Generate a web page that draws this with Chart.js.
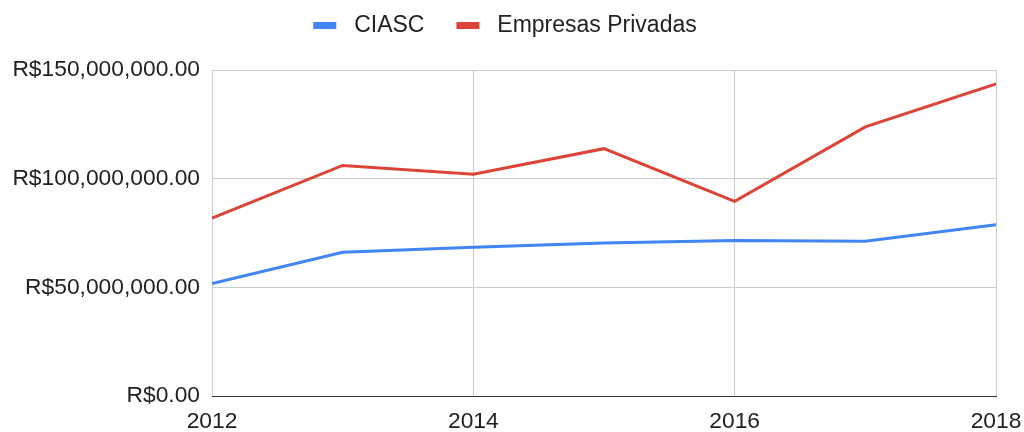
<!DOCTYPE html>
<html>
<head>
<meta charset="utf-8">
<script src="https://cdn.jsdelivr.net/npm/chart.js@4"></script>
<style>
  html, body { margin: 0; padding: 0; background: #ffffff; }
  #wrap { width: 1024px; height: 432px; }
</style>
</head>
<body>
<div id="wrap"><canvas id="c" width="1024" height="432"></canvas></div>
<script>
const years = [2012, 2013, 2014, 2015, 2016, 2017, 2018];
const ciasc = [51800000, 66100000, 68400000, 70400000, 71600000, 71200000, 78800000];
const empresas = [81800000, 106100000, 102000000, 113800000, 89600000, 123800000, 143600000];
const seriesNames = ['CIASC', 'Empresas Privadas'];
const xTicks = [2012, 2014, 2016, 2018];
const xTickLabels = ['2012', '2014', '2016', '2018'];
const yTicks = [0, 50000000, 100000000, 150000000];
const yTickLabels = ['R$0.00', 'R$50,000,000.00', 'R$100,000,000.00', 'R$150,000,000.00'];

const FONT = "'Liberation Sans', Arial, sans-serif";
const toPts = (vals) => years.map((y, i) => ({ x: y, y: vals[i] }));

const legendHeight = {
  id: 'legendHeight',
  afterInit(chart) {
    const lg = chart.legend;
    const orig = lg.fit;
    lg.fit = function () { orig.call(this); this.height = 88; };
  }
};

new Chart(document.getElementById('c'), {
  type: 'line',
  data: {
    datasets: [
      { label: seriesNames[0], data: toPts(ciasc), borderColor: '#4285F4', backgroundColor: '#4285F4',
        borderWidth: 3, pointRadius: 0, pointHoverRadius: 0, tension: 0, fill: false },
      { label: seriesNames[1], data: toPts(empresas), borderColor: '#DB4437', backgroundColor: '#DB4437',
        borderWidth: 3, pointRadius: 0, pointHoverRadius: 0, tension: 0, fill: false }
    ]
  },
  options: {
    responsive: false,
    animation: false,
    devicePixelRatio: 1,
    layout: { padding: { left: 14, right: 28, top: -18, bottom: 0 } },
    plugins: {
      tooltip: { enabled: false },
      legend: {
        position: 'top',
        align: 'center',
        labels: {
          boxWidth: 23,
          boxHeight: 7,
          padding: 32,
          color: '#222222',
          font: { family: FONT, size: 23 },
          generateLabels(chart) {
            const items = Chart.defaults.plugins.legend.labels.generateLabels(chart);
            return items.map(it => Object.assign(it, { text: ' ' + it.text, lineWidth: 0 }));
          }
        }
      }
    },
    scales: {
      x: {
        type: 'linear',
        min: 2012,
        max: 2018,
        afterBuildTicks(scale) { scale.ticks = xTicks.map(v => ({ value: v })); },
        afterFit(scale) { scale.height = 36; scale.paddingRight = 0; scale.paddingLeft = 0; },
        ticks: {
          padding: 12,
          color: '#222222',
          font: { family: FONT, size: 22.8 },
          maxRotation: 0,
          autoSkip: false,
          callback(v) { const i = xTicks.indexOf(v); return i >= 0 ? xTickLabels[i] : ''; }
        },
        grid: { color: '#cccccc', lineWidth: 1, drawTicks: false },
        border: { display: true, color: '#333333', width: 1 }
      },
      y: {
        min: 0,
        max: 150000000,
        afterBuildTicks(scale) { scale.ticks = yTicks.map(v => ({ value: v })); },
        afterFit(scale) { scale.width = 198; },
        ticks: {
          padding: 12,
          color: '#222222',
          font: { family: FONT, size: 22.8 },
          callback(v) { const i = yTicks.indexOf(v); return i >= 0 ? yTickLabels[i] : ''; }
        },
        grid: { color: '#cccccc', lineWidth: 1, drawTicks: false },
        border: { display: false }
      }
    }
  },
  plugins: [legendHeight]
});
</script>
</body>
</html>
